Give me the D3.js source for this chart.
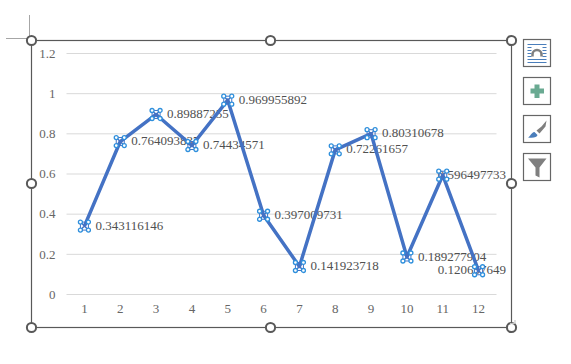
<!DOCTYPE html>
<html>
<head>
<meta charset="utf-8">
<script src="https://cdn.jsdelivr.net/npm/d3@7"></script>
<style>
html, body { margin: 0; padding: 0; background: #fff; }
svg { display: block; }
text { font-family: "Liberation Serif", serif; }
</style>
</head>
<body>
<svg id="chart" width="571" height="364"></svg>
<script>
var categories = [1, 2, 3, 4, 5, 6, 7, 8, 9, 10, 11, 12];
var values = [0.343116146, 0.764093837, 0.89887255, 0.74434571, 0.969955892, 0.397009731,
  0.141923718, 0.72261657, 0.80310678, 0.189277904, 0.596497733, 0.120657649];
var yTicks = [0, 0.2, 0.4, 0.6, 0.8, 1, 1.2];

var svg = d3.select("#chart");

var left = 66.5, right = 496.5, top_ = 53, bottom = 294;
var frame = {x0: 31.5, x1: 511.5, y0: 40.5, y1: 327.5};

var x = d3.scaleBand().domain(categories).range([left, right]);
var y = d3.scaleLinear().domain([0, 1.2]).range([bottom, top_]);
var px = function(d) { return x(d) + x.bandwidth() / 2; };

// frame of the selected chart
svg.append("rect")
  .attr("x", frame.x0).attr("y", frame.y0)
  .attr("width", frame.x1 - frame.x0).attr("height", frame.y1 - frame.y0)
  .attr("fill", "#fff").attr("stroke", "#595959").attr("stroke-width", 1.2);

// crosshair cursor
svg.append("path").attr("d", "M29.5 15V38.5M6 38.5H29.5").attr("fill", "none").attr("stroke", "#a6a6a6");

// axes
var yAxis = svg.append("g")
  .attr("transform", "translate(" + left + ",0)")
  .call(d3.axisLeft(y).tickValues(yTicks).tickFormat(d3.format("~g")).tickSize(-(right - left)).tickPadding(11));
yAxis.select(".domain").remove();
yAxis.selectAll("line").attr("stroke", "#d9d9d9");
yAxis.selectAll("text").attr("font-size", 13).attr("fill", "#666").style("font-family", '"Liberation Serif", serif');

var xAxis = svg.append("g")
  .attr("transform", "translate(0," + bottom + ")")
  .call(d3.axisBottom(x).tickSize(0).tickPadding(10));
xAxis.select(".domain").remove();
xAxis.selectAll("text").attr("font-size", 13).attr("fill", "#666").style("font-family", '"Liberation Serif", serif');

// data labels go under the line, and get pushed back inside at the right edge
var labels = svg.append("g").selectAll("text").data(values).join("text")
  .attr("y", function(d) { return y(d); })
  .attr("dy", "0.35em")
  .attr("font-size", 13)
  .attr("fill", "#505050")
  .text(function(d) { return d; })
  .attr("x", function(d, i) {
    var w = this.getComputedTextLength();
    return Math.min(px(categories[i]) + 11, 506 - w);
  });

var line = d3.line()
  .x(function(d, i) { return px(categories[i]); })
  .y(function(d) { return y(d) + 1; });

svg.append("path").datum(values)
  .attr("d", line)
  .attr("fill", "none")
  .attr("stroke", "#4472c4")
  .attr("stroke-width", 3.5)
  .attr("stroke-linejoin", "round");

// selection markers on the points
var mark = svg.append("g").selectAll("g").data(values).join("g")
  .attr("transform", function(d, i) { return "translate(" + px(categories[i]) + "," + (y(d) + 1) + ")"; });
mark.append("rect").attr("x", -4).attr("y", -4).attr("width", 8).attr("height", 8)
  .attr("fill", "none").attr("stroke", "#4472c4").attr("stroke-width", 1);
mark.append("path").attr("d", "M-4 -4L4 4M-4 4L4 -4").attr("stroke", "#4472c4").attr("stroke-width", 1.5);
[[-4, -4], [4, -4], [-4, 4], [4, 4]].forEach(function(o) {
  mark.append("circle").attr("cx", o[0]).attr("cy", o[1]).attr("r", 2)
    .attr("fill", "#fff").attr("stroke", "#2e8fdc").attr("stroke-width", 1.3);
});

// resize handles
var handleX = [frame.x0, 270.5, frame.x1];
var handleY = [frame.y0, 183.5, frame.y1];
handleX.forEach(function(hx, i) {
  handleY.forEach(function(hy, j) {
    if (i === 1 && j === 1) return;
    svg.append("circle").attr("cx", hx).attr("cy", hy).attr("r", 4.6)
      .attr("fill", "#fff").attr("stroke", "#595959").attr("stroke-width", 2);
  });
});
svg.append("path").attr("d", "M510 323.5H515V320").attr("fill", "none").attr("stroke", "#bfbfbf");

// chart buttons on the right
var buttons = [39, 77, 115, 153];
var btn = svg.append("g").selectAll("g").data(buttons).join("g")
  .attr("transform", function(d) { return "translate(523.5," + (d + 0.5) + ")"; });
btn.append("rect").attr("width", 27).attr("height", 27).attr("fill", "#fff").attr("stroke", "#666").attr("stroke-width", 1.2);

// layout icon
var b0 = d3.select(btn.nodes()[0]);
[5, 8, 11, 14, 17, 20, 23].forEach(function(ly, i) {
  var short_ = i >= 1 && i <= 4;
  b0.append("line").attr("x1", 4).attr("x2", short_ ? 8 : 23).attr("y1", ly).attr("y2", ly).attr("stroke", "#4a7ebb");
  if (short_) b0.append("line").attr("x1", 19).attr("x2", 23).attr("y1", ly).attr("y2", ly).attr("stroke", "#4a7ebb");
});
b0.append("path").attr("d", "M9 17V15A4.5 4.5 0 0 1 18 15V17").attr("fill", "none").attr("stroke", "#7f7f7f").attr("stroke-width", 2.5);

// plus icon
d3.select(btn.nodes()[1]).append("path")
  .attr("d", "M11 7H16V11H20.5V16H16V20.5H11V16H7V11H11Z").attr("fill", "#6aaa92");

// brush icon
var b2 = d3.select(btn.nodes()[2]);
b2.append("path").attr("d", "M4.5 22C7 21 7.5 17 11 16.5L14 19.5C13.5 22 10 22.5 4.5 22Z").attr("fill", "#4a7ebb");
b2.append("path").attr("d", "M13 15L18 11L23 5L22 11L16 18Z").attr("fill", "#7f7f7f");

// filter icon
d3.select(btn.nodes()[3]).append("path")
  .attr("d", "M4.5 5H23L16 14V24L12 22V14Z").attr("fill", "#7f7f7f");
</script>
</body>
</html>
